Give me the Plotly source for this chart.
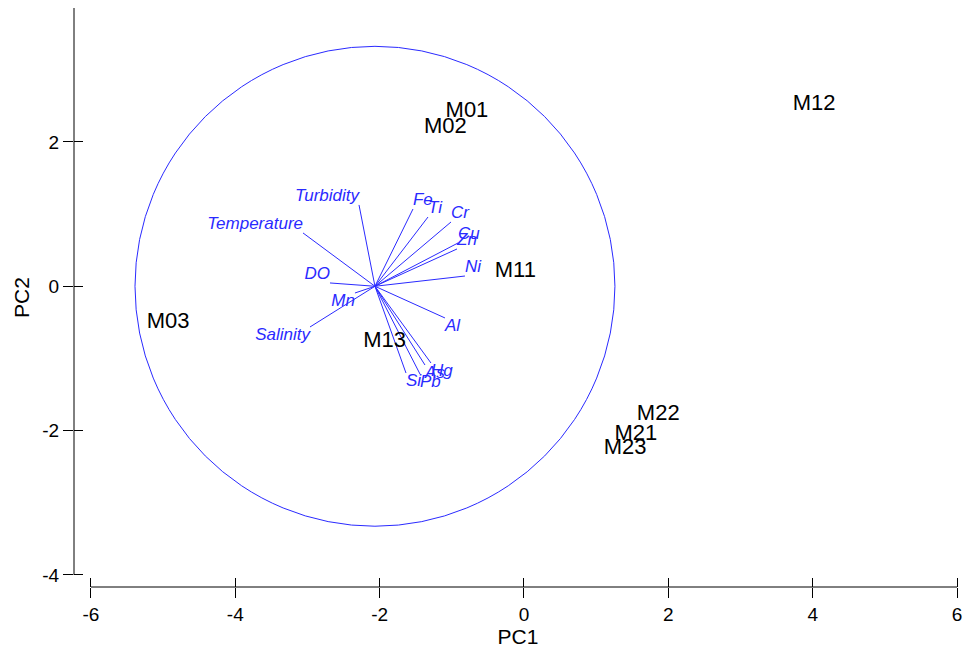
import plotly.graph_objects as go

# Sample scores
samples = ["M01", "M02", "M12", "M11", "M03", "M13", "M22", "M21", "M23"]
pc1 = [-0.79, -1.09, 4.02, -0.12, -4.93, -1.93, 1.86, 1.55, 1.40]
pc2 = [2.42, 2.20, 2.52, 0.21, -0.50, -0.77, -1.77, -2.06, -2.25]

# Variable vectors (end points, plotted from the circle centre)
variables = ["Turbidity", "Temperature", "DO", "Mn", "Salinity", "Fe", "Ti", "Cr",
             "Cu", "Zn", "Ni", "Al", "As", "Hg", "Pb", "Si"]
vec_x = [-2.286, -3.062, -2.688, -2.342, -2.965, -1.538, -1.330, -1.011,
         -0.914, -0.928, -0.818, -1.095, -1.372, -1.289, -1.441, -1.635]
vec_y = [1.127, 0.739, 0.046, -0.093, -0.564, 1.071, 0.960, 0.891,
         0.600, 0.517, 0.142, -0.439, -1.091, -1.063, -1.216, -1.202]
label_pos = ["top left", "top left", "top left", "bottom left", "bottom left",
             "top right", "top right", "top right", "top right", "top right",
             "top right", "bottom right", "bottom right", "bottom right",
             "bottom right", "bottom right"]

circle_cx, circle_cy, circle_r = -2.065, 0.0, 3.325

tick_vals_x = [-6, -4, -2, 0, 2, 4, 6]
tick_text_x = ["-6", "-4", "-2", "0", "2", "4", "6"]
tick_vals_y = [-4, -2, 0, 2]
tick_text_y = ["-4", "-2", "0", "2"]

X_RANGE = [-6.235, 6.069]
Y_RANGE = [-4.167, 3.856]

BLUE = "#2a2aff"
FONT = "Arial, Liberation Sans, sans-serif"

fig = go.Figure()

# vector lines
lx, ly = [], []
for vx, vy in zip(vec_x, vec_y):
    lx += [circle_cx, vx, None]
    ly += [circle_cy, vy, None]
fig.add_trace(go.Scatter(x=lx, y=ly, mode="lines",
                         line=dict(color=BLUE, width=1), hoverinfo="skip",
                         showlegend=False))

# vector labels
fig.add_trace(go.Scatter(x=vec_x, y=vec_y, mode="text", text=variables,
                         textposition=label_pos,
                         textfont=dict(family=FONT, size=17, color=BLUE, style="italic"),
                         showlegend=False))

# sample labels
fig.add_trace(go.Scatter(x=pc1, y=pc2, mode="text", text=samples,
                         textposition="middle center",
                         textfont=dict(family=FONT, size=22, color="black"),
                         showlegend=False))

# overlay axes for inside tick halves
fig.add_trace(go.Scatter(x=[None], y=[None], xaxis="x2", yaxis="y2",
                         showlegend=False, hoverinfo="skip"))

# circle
fig.add_shape(type="circle", xref="x", yref="y",
              x0=circle_cx - circle_r, x1=circle_cx + circle_r,
              y0=circle_cy - circle_r, y1=circle_cy + circle_r,
              line=dict(color=BLUE, width=1))

# axis lines (detached PRIMER style)
fig.add_shape(type="line", xref="x", yref="paper",
              x0=tick_vals_x[0], x1=tick_vals_x[-1], y0=0, y1=0,
              line=dict(color="black", width=1))
fig.add_shape(type="line", xref="paper", yref="y",
              x0=0, x1=0, y0=tick_vals_y[0], y1=Y_RANGE[1],
              line=dict(color="black", width=1))

axis_common = dict(showgrid=False, zeroline=False, showline=False,
                   tickcolor="black", tickwidth=1)

fig.update_layout(
    width=965, height=648,
    margin=dict(l=74, r=3, t=8, b=61),
    paper_bgcolor="white", plot_bgcolor="white",
    font=dict(family=FONT, color="black"),
    xaxis=dict(range=X_RANGE, tickvals=tick_vals_x, ticktext=tick_text_x,
               ticks="outside", ticklen=10,
               tickfont=dict(size=19), title=dict(text="PC1", font=dict(size=21), standoff=6),
               **axis_common),
    yaxis=dict(range=Y_RANGE, tickvals=tick_vals_y, ticktext=tick_text_y,
               ticks="outside", ticklen=10,
               tickfont=dict(size=19), title=dict(text="PC2", font=dict(size=21), standoff=6),
               **axis_common),
    xaxis2=dict(range=X_RANGE, tickvals=tick_vals_x, ticks="inside", ticklen=9,
                showticklabels=False, overlaying="x", anchor="y2", side="bottom",
                **axis_common),
    yaxis2=dict(range=Y_RANGE, tickvals=tick_vals_y, ticks="inside", ticklen=9,
                showticklabels=False, overlaying="y", anchor="x2", side="left",
                **axis_common),
)

fig.write_html("out.html")
